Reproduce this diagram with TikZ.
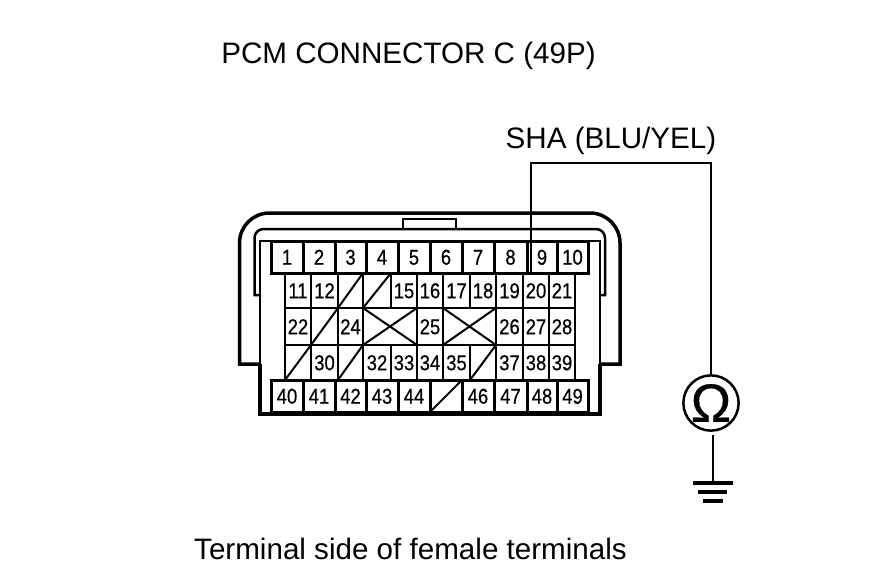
\documentclass[tikz,border=0pt]{standalone}
\usepackage{graphicx}
\usepackage{fontspec}
\setmainfont{Liberation Sans}
\newfontfamily\heavyfont{Liberation Sans}[FakeBold=0.5]
\usetikzlibrary{calc}

\newcommand{\cellnum}[1]{\scalebox{0.86}[1]{#1}}

\begin{document}
\begin{tikzpicture}[x=1pt, y=-1pt, line join=miter,
	cell/.style={draw=black, line width=2pt, rectangle, inner sep=0pt, outer sep=0pt, text height=15.4pt, text depth=0pt, font=\heavyfont\fontsize{21.5}{22}\selectfont},
	edgecell/.style={cell, line width=3pt},
	shell/.style={draw=black, line width=3.5pt},
	thinline/.style={draw=black, line width=2pt},
	caption/.style={inner sep=0pt, font=\fontsize{29.6}{30}\selectfont}]

\useasboundingbox (0,0) rectangle (880,578);

% Housing
\draw[shell] (260,364) -- (239.5,364) -- (239.5,300) [rounded corners=30pt] -- (239.5,213) -- (620,213) -- (620,300) [sharp corners] -- (620,364) -- (600,364);
\draw[thinline, line width=2.5pt] (261,295) -- (254.5,295) -- (254.5,260) [rounded corners=9pt] -- (254.5,229) -- (605,229) -- (605,260) [sharp corners] -- (605,295) -- (600,295);
\draw[thinline] (403,229) -- (403,219) -- (456,219) -- (456,229);
\draw[thinline] (260,364) -- (260,241) -- (600,241) -- (600,364);
\draw[shell] (260,364) -- (260,414) -- (600,414) -- (600,364);

% Row 1
\foreach \n/\a/\b in {1/271/303, 2/303/335, 3/335/366, 4/366/398, 5/398/430, 6/430/462, 7/462/494, 8/494/527, 9/527/557, 10/557/588}
	\node[edgecell, minimum width={(\b-\a)*1pt}, minimum height=32pt] (c\n) at ({(\a+\b)/2},257) {\cellnum{\n}};

% Row 2
\foreach \n/\a/\b in {11/285/311, 12/311/338, 15/391/417, 16/417/443, 17/443/470, 18/470/496, 19/496/523, 20/523/549, 21/549/575}
	\node[cell, minimum width={(\b-\a)*1pt}, minimum height=35pt] (c\n) at ({(\a+\b)/2},290.5) {\cellnum{\n}};
\foreach \n/\a/\b in {13/338/363, 14/363/391}
	\node[cell, minimum width={(\b-\a)*1pt}, minimum height=35pt] (c\n) at ({(\a+\b)/2},290.5) {};

% Row 3
\foreach \n/\a/\b in {22/285/311, 24/338/363, 25/417/443, 26/496/523, 27/523/549, 28/549/575}
	\node[cell, minimum width={(\b-\a)*1pt}, minimum height=37pt] (c\n) at ({(\a+\b)/2},326.5) {\cellnum{\n}};
\foreach \n/\a/\b in {23/311/338, xa/363/417, xb/443/496}
	\node[cell, minimum width={(\b-\a)*1pt}, minimum height=37pt] (c\n) at ({(\a+\b)/2},326.5) {};

% Row 4
\foreach \n/\a/\b in {30/311/338, 32/363/391, 33/391/417, 34/417/443, 35/443/470, 37/496/523, 38/523/549, 39/549/575}
	\node[cell, minimum width={(\b-\a)*1pt}, minimum height=35pt] (c\n) at ({(\a+\b)/2},362.5) {\cellnum{\n}};
\foreach \n/\a/\b in {29/285/311, 31/338/363, 36/470/496}
	\node[cell, minimum width={(\b-\a)*1pt}, minimum height=35pt] (c\n) at ({(\a+\b)/2},362.5) {};

% Row 5
\foreach \n/\a/\b in {40/271/303, 41/303/335, 42/335/366, 43/366/398, 44/398/430, 46/462/494, 47/494/527, 48/527/557, 49/557/588}
	\node[edgecell, minimum width={(\b-\a)*1pt}, minimum height=32pt] (c\n) at ({(\a+\b)/2},396) {\cellnum{\n}};
\node[edgecell, minimum width=32pt, minimum height=32pt] (c45) at (446,396) {};

% Blanked cavities
\foreach \n in {13,14,23,29,31,36,45,xa,xb}
	\draw[thinline] (c\n.south west) -- (c\n.north east);
\foreach \n in {xa,xb}
	\draw[thinline] (c\n.north west) -- (c\n.south east);

% Labels
\node[caption] (title) at (408.5,56) {PCM CONNECTOR C (49P)};
\node[caption] (wirename) at (611,141) {SHA (BLU/YEL)};
\node[caption] (side) at (410.5,549) {Terminal side of female terminals};

% Meter
\node[draw=black, line width=2.5pt, circle, minimum size=55pt, inner sep=0pt, font=\heavyfont\fontsize{54}{54}\selectfont] (meter) at (711,403) {Ω};

% Wire
\coordinate (wirebot) at (531,273);
\coordinate (wirecorner) at (711,163);
\coordinate (gnd) at (713,482);
\draw[thinline] (wirebot) |- (wirecorner) -- (meter);
\draw[thinline, shorten >=3pt] (gnd) -- (gnd |- meter.south);

% Ground
\draw[shell] (693,483) -- (733,483);
\draw[shell] (698,492) -- (727,492);
\draw[shell] (703,501) -- (723,501);

\end{tikzpicture}
\end{document}
